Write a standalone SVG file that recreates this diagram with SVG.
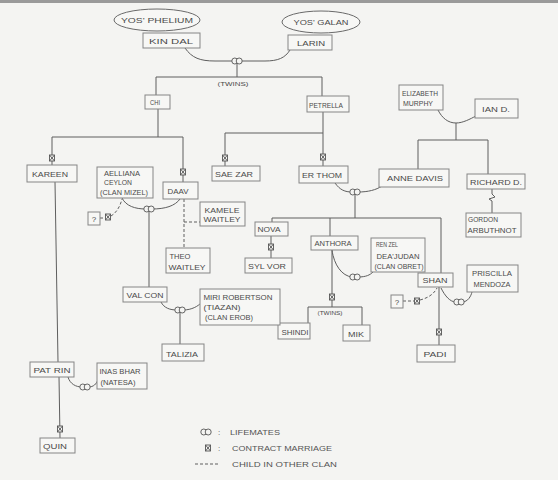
<svg xmlns="http://www.w3.org/2000/svg" width="558" height="480" viewBox="0 0 558 480">
<style>
.box{fill:#f7f7f5;stroke:#858585;stroke-width:1}
.ell{fill:#f7f7f5;stroke:#6a6a6a;stroke-width:1}
.t{font-family:"Liberation Sans",Arial,sans-serif;font-size:8px;fill:#4a4a4a;text-anchor:middle}
.s{font-size:7px}
.xs{font-size:5px}
.ln{fill:none;stroke:#5e5e5e;stroke-width:1}
.dash{stroke-dasharray:3,2}
.sym{fill:#f4f4f2;stroke:#555;stroke-width:0.9}
.lt{font-family:"Liberation Sans",Arial,sans-serif;font-size:8px;fill:#555}
</style>
<defs>
<g id="lm" class="sym"><circle cx="-2.2" cy="0" r="3"/><circle cx="2.2" cy="0" r="3"/></g>
<g id="cm" class="sym"><rect x="-2.5" y="-3" width="5" height="6"/><path d="M-2.5,-3L2.5,3M2.5,-3L-2.5,3"/></g>
</defs>
<rect x="0" y="0" width="558" height="480" fill="#f4f4f2"/>
<rect x="0" y="0" width="558" height="3" fill="#9a9a9a"/>

<g id="connectors">
<!-- Kin Dal / Larin -->
<path class="ln" d="M185,48 C192,58 200,61 215,61 L234,61"/>
<path class="ln" d="M290,50 C285,58 278,61 265,61 L240,61"/>
<path class="ln" d="M237,64 L237,77 M156,77 L322,77 M156,77 L156,95 M322,77 L322,96"/>
<!-- Chi -->
<path class="ln" d="M158,109 L158,137 M52,137 L183,137 M52,137 L52,165 M183,137 L183,182"/>
<!-- Aelliana / Daav -->
<path class="ln" d="M122,198 C126,206 135,209 146,209"/>
<path class="ln" d="M152,209 C165,209 175,206 180,199"/>
<path class="ln" d="M149,212 L149,287"/>
<path class="ln dash" d="M100,218 L105,218 M111,216 C116,213 120,207 122,199"/>
<!-- Daav dashed -->
<path class="ln dash" d="M184,199 L184,248 M184,222 L200,222"/>
<!-- Val Con / Miri -->
<path class="ln" d="M161,302 C164,308 170,310 177,310"/>
<path class="ln" d="M183,310 C192,310 198,306 201,303"/>
<path class="ln" d="M180,313 L180,344"/>
<!-- Kareen / Pat Rin -->
<path class="ln" d="M55,182 L58,362"/>
<path class="ln" d="M68,377 C70,384 76,387 82,387"/>
<path class="ln" d="M88,387 C94,387 96,384 98,380"/>
<path class="ln" d="M59,377 L60,438"/>
<!-- Petrella -->
<path class="ln" d="M323,112 L323,166 M225,133 L323,133 M225,133 L225,166"/>
<!-- Er Thom / Anne Davis -->
<path class="ln" d="M335,183 C340,190 345,192 352,192"/>
<path class="ln" d="M358,192 C368,192 376,190 382,186"/>
<path class="ln" d="M355,195 L355,218 M272,218 L441,218 M272,218 L272,222 M330,218 L330,236 M441,218 L441,273"/>
<!-- Nova / Syl Vor -->
<path class="ln" d="M271,236 L271,258"/>
<!-- Anthora / Ren Zel -->
<path class="ln" d="M332,250 C334,265 342,276 352,277"/>
<path class="ln" d="M358,277 C366,277 370,275 373,272"/>
<path class="ln" d="M332,250 L332,307 M308,307 L362,307 M308,307 L308,323 M362,307 L362,325"/>
<!-- Shan / Priscilla -->
<path class="ln" d="M441,288 C445,296 450,302 456,302"/>
<path class="ln" d="M462,302 C468,302 471,296 472,292"/>
<path class="ln" d="M439,287 L439,345"/>
<path class="ln dash" d="M403,301 L414,301 M420,300 C428,298 434,294 437,288"/>
<!-- Elizabeth / Ian -->
<path class="ln" d="M438,110 C442,118 448,123 456,123"/>
<path class="ln" d="M476,116 C470,119 463,123 456,123"/>
<path class="ln" d="M456,123 L456,140 M418,140 L488,140 M418,140 L418,169 M488,140 L488,174"/>
<!-- Richard / Gordon -->
<path class="ln" d="M492,189 L492,194 L495,197 L489,199 L492,201 L492,213"/>
<!-- symbols -->
<use href="#lm" x="237" y="61"/>
<use href="#cm" x="52" y="158"/>
<use href="#cm" x="183" y="172"/>
<use href="#lm" x="149" y="209"/>
<use href="#cm" x="108" y="217"/>
<use href="#lm" x="180" y="310"/>
<use href="#lm" x="85" y="387"/>
<use href="#cm" x="60" y="429"/>
<use href="#cm" x="225" y="158"/>
<use href="#cm" x="323" y="157"/>
<use href="#lm" x="355" y="192"/>
<use href="#cm" x="271" y="247"/>
<use href="#lm" x="355" y="277"/>
<use href="#cm" x="332" y="297"/>
<use href="#lm" x="459" y="302"/>
<use href="#cm" x="439" y="332"/>
<use href="#cm" x="417" y="301"/>
</g>

<g id="yos-phelium"><ellipse class="ell" cx="157" cy="20" rx="43" ry="11"/><text class="t" x="157" y="23" textLength="72" lengthAdjust="spacingAndGlyphs">YOS' PHELIUM</text></g>
<g id="yos-galan"><ellipse class="ell" cx="321" cy="22" rx="39" ry="11"/><text class="t" x="321" y="25" textLength="55" lengthAdjust="spacingAndGlyphs">YOS' GALAN</text></g>
<g id="kin-dal"><rect class="box" x="143" y="33" width="57" height="15"/><text class="t" x="171" y="44" textLength="44" lengthAdjust="spacingAndGlyphs">KIN DAL</text></g>
<g id="larin"><rect class="box" x="288" y="35" width="44" height="15"/><text class="t" x="311" y="46" textLength="28" lengthAdjust="spacingAndGlyphs">LARIN</text></g>
<g id="twins1"><text class="t xs" x="233" y="86" textLength="31" lengthAdjust="spacingAndGlyphs">(TWINS)</text></g>
<g id="chi"><rect class="box" x="145" y="95" width="25" height="14"/><text class="t s" x="155" y="105" textLength="10" lengthAdjust="spacingAndGlyphs">CHI</text></g>
<g id="petrella"><rect class="box" x="307" y="96" width="42" height="16"/><text class="t" x="326" y="108" textLength="34" lengthAdjust="spacingAndGlyphs">PETRELLA</text></g>
<g id="kareen"><rect class="box" x="27" y="165" width="50" height="17"/><text class="t" x="50" y="177" textLength="36" lengthAdjust="spacingAndGlyphs">KAREEN</text></g>
<g id="aelliana"><rect class="box" x="97" y="167" width="56" height="31"/>
<text class="t s" x="122" y="176" textLength="36" lengthAdjust="spacingAndGlyphs">AELLIANA</text>
<text class="t s" x="118" y="185" textLength="28" lengthAdjust="spacingAndGlyphs">CEYLON</text>
<text class="t s" x="124" y="195" textLength="48" lengthAdjust="spacingAndGlyphs">(CLAN MIZEL)</text></g>
<g id="daav"><rect class="box" x="163" y="182" width="35" height="17"/><text class="t" x="178" y="194" textLength="21" lengthAdjust="spacingAndGlyphs">DAAV</text></g>
<g id="unknown1"><rect class="box" x="88" y="212" width="12" height="13"/><text class="t" x="94" y="222">?</text></g>
<g id="sae-zar"><rect class="box" x="212" y="166" width="48" height="15"/><text class="t" x="234" y="177" textLength="38" lengthAdjust="spacingAndGlyphs">SAE ZAR</text></g>
<g id="er-thom"><rect class="box" x="299" y="166" width="49" height="17"/><text class="t" x="322" y="178" textLength="40" lengthAdjust="spacingAndGlyphs">ER THOM</text></g>
<g id="anne-davis"><rect class="box" x="379" y="169" width="70" height="18"/><text class="t" x="415" y="181" textLength="56" lengthAdjust="spacingAndGlyphs">ANNE DAVIS</text></g>
<g id="elizabeth"><rect class="box" x="399" y="85" width="44" height="25"/>
<text class="t s" x="420" y="96" textLength="36" lengthAdjust="spacingAndGlyphs">ELIZABETH</text>
<text class="t s" x="418" y="106" textLength="30" lengthAdjust="spacingAndGlyphs">MURPHY</text></g>
<g id="ian-d"><rect class="box" x="475" y="99" width="43" height="19"/><text class="t" x="496" y="112" textLength="28" lengthAdjust="spacingAndGlyphs">IAN D.</text></g>
<g id="richard-d"><rect class="box" x="467" y="174" width="58" height="15"/><text class="t" x="496" y="185" textLength="52" lengthAdjust="spacingAndGlyphs">RICHARD D.</text></g>
<g id="gordon"><rect class="box" x="466" y="213" width="55" height="24"/>
<text class="t s" x="483" y="222" textLength="30" lengthAdjust="spacingAndGlyphs">GORDON</text>
<text class="t s" x="492" y="233" textLength="49" lengthAdjust="spacingAndGlyphs">ARBUTHNOT</text></g>
<g id="kamele"><rect class="box" x="200" y="202" width="45" height="24"/>
<text class="t s" x="222" y="213" textLength="35" lengthAdjust="spacingAndGlyphs">KAMELE</text>
<text class="t s" x="222" y="222" textLength="37" lengthAdjust="spacingAndGlyphs">WAITLEY</text></g>
<g id="theo"><rect class="box" x="166" y="248" width="44" height="25"/>
<text class="t s" x="180" y="259" textLength="21" lengthAdjust="spacingAndGlyphs">THEO</text>
<text class="t s" x="187" y="270" textLength="37" lengthAdjust="spacingAndGlyphs">WAITLEY</text></g>
<g id="nova"><rect class="box" x="255" y="222" width="33" height="14"/><text class="t" x="269" y="232" textLength="23" lengthAdjust="spacingAndGlyphs">NOVA</text></g>
<g id="syl-vor"><rect class="box" x="245" y="258" width="47" height="15"/><text class="t" x="267" y="269" textLength="38" lengthAdjust="spacingAndGlyphs">SYL VOR</text></g>
<g id="anthora"><rect class="box" x="311" y="236" width="47" height="14"/><text class="t" x="333" y="246" textLength="37" lengthAdjust="spacingAndGlyphs">ANTHORA</text></g>
<g id="ren-zel"><rect class="box" x="371" y="238" width="54" height="34"/>
<text class="t s" x="387" y="247" textLength="22" lengthAdjust="spacingAndGlyphs">REN ZEL</text>
<text class="t s" x="398" y="259" textLength="43" lengthAdjust="spacingAndGlyphs">DEA'JUDAN</text>
<text class="t s" x="399" y="269" textLength="49" lengthAdjust="spacingAndGlyphs">(CLAN OBRET)</text></g>
<g id="shan"><rect class="box" x="418" y="273" width="35" height="14"/><text class="t" x="435" y="283" textLength="25" lengthAdjust="spacingAndGlyphs">SHAN</text></g>
<g id="priscilla"><rect class="box" x="467" y="265" width="51" height="27"/>
<text class="t s" x="492" y="276" textLength="40" lengthAdjust="spacingAndGlyphs">PRISCILLA</text>
<text class="t s" x="492" y="287" textLength="37" lengthAdjust="spacingAndGlyphs">MENDOZA</text></g>
<g id="unknown2"><rect class="box" x="391" y="295" width="12" height="13"/><text class="t" x="397" y="305">?</text></g>
<g id="padi"><rect class="box" x="417" y="345" width="38" height="17"/><text class="t" x="435" y="357" textLength="23" lengthAdjust="spacingAndGlyphs">PADI</text></g>
<g id="twins2"><text class="t xs" x="330" y="315" textLength="25" lengthAdjust="spacingAndGlyphs">(TWINS)</text></g>
<g id="shindi"><rect class="box" x="278" y="323" width="32" height="16"/><text class="t" x="295" y="335" textLength="27" lengthAdjust="spacingAndGlyphs">SHINDI</text></g>
<g id="mik"><rect class="box" x="343" y="325" width="27" height="16"/><text class="t" x="356" y="337" textLength="16" lengthAdjust="spacingAndGlyphs">MIK</text></g>
<g id="val-con"><rect class="box" x="123" y="287" width="44" height="15"/><text class="t" x="145" y="298" textLength="37" lengthAdjust="spacingAndGlyphs">VAL CON</text></g>
<g id="miri"><rect class="box" x="200" y="289" width="80" height="36"/>
<text class="t s" x="238" y="300" textLength="69" lengthAdjust="spacingAndGlyphs">MIRI ROBERTSON</text>
<text class="t s" x="222" y="310" textLength="37" lengthAdjust="spacingAndGlyphs">(TIAZAN)</text>
<text class="t s" x="229" y="320" textLength="48" lengthAdjust="spacingAndGlyphs">(CLAN EROB)</text></g>
<g id="talizia"><rect class="box" x="162" y="344" width="42" height="17"/><text class="t" x="182" y="357" textLength="32" lengthAdjust="spacingAndGlyphs">TALIZIA</text></g>
<g id="pat-rin"><rect class="box" x="30" y="362" width="44" height="15"/><text class="t" x="52" y="373" textLength="37" lengthAdjust="spacingAndGlyphs">PAT RIN</text></g>
<g id="inas-bhar"><rect class="box" x="97" y="363" width="50" height="26"/>
<text class="t s" x="120" y="374" textLength="41" lengthAdjust="spacingAndGlyphs">INAS BHAR</text>
<text class="t s" x="118" y="385" textLength="35" lengthAdjust="spacingAndGlyphs">(NATESA)</text></g>
<g id="quin"><rect class="box" x="40" y="438" width="35" height="15"/><text class="t" x="55" y="449" textLength="24" lengthAdjust="spacingAndGlyphs">QUIN</text></g>

<g id="legend">
<use href="#lm" x="206" y="432"/>
<text class="lt" x="218" y="435">:</text>
<text class="lt" x="230" y="435" textLength="50" lengthAdjust="spacingAndGlyphs">LIFEMATES</text>
<use href="#cm" x="208" y="448"/>
<text class="lt" x="218" y="451">:</text>
<text class="lt" x="232" y="451" textLength="100" lengthAdjust="spacingAndGlyphs">CONTRACT MARRIAGE</text>
<path class="ln dash" d="M195,464 L219,464"/>
<text class="lt" x="232" y="467" textLength="105" lengthAdjust="spacingAndGlyphs">CHILD IN OTHER CLAN</text>
</g>
</svg>
